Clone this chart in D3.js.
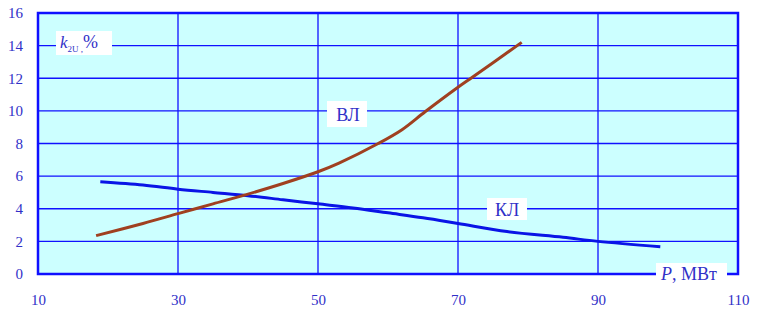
<!DOCTYPE html>
<html>
<head>
<meta charset="utf-8">
<script src="https://cdn.jsdelivr.net/npm/d3@7"></script>
<style>
  body { margin: 0; background: #fff; }
  text { font-family: "Liberation Serif", "Times New Roman", serif; }
</style>
</head>
<body>
<div id="chart"></div>
<script>
// data
var xTicks = [10, 30, 50, 70, 90, 110];
var yTicks = [0, 2, 4, 6, 8, 10, 12, 14, 16];

var pVL = [18.3, 25, 30, 35, 40, 45, 50, 53, 58.6, 62, 65.3, 70, 72, 75, 79.1];
var kVL = [2.35, 3.1, 3.7, 4.3, 4.9, 5.55, 6.27, 6.8, 8.0, 8.85, 9.95, 11.45, 12.05, 12.95, 14.2];

var pKL = [18.9, 25, 30, 35, 40, 45, 50, 55, 60, 65, 70, 77, 85, 90, 98.9];
var kKL = [5.65, 5.45, 5.2, 5.0, 4.8, 4.55, 4.3, 4.05, 3.75, 3.45, 3.1, 2.6, 2.25, 2.0, 1.67];

var svgWidth = 759, svgHeight = 314;
var padL = 38, padR = 738, padT = 13, padB = 274;
var gridColor = '#1010ff', textColor = '#3030c8';

var svg = d3.select('#chart')
    .append('svg')
    .attr('width', svgWidth)
    .attr('height', svgHeight);

var xScale = d3.scaleLinear().domain([10, 110]).range([padL, padR]);
var yScale = d3.scaleLinear().domain([0, 16]).range([padB, padT]);

// background
svg.append('rect')
    .attr('x', padL).attr('y', padT)
    .attr('width', padR - padL).attr('height', padB - padT)
    .attr('fill', '#ccffff');

// grid
svg.selectAll('.vgrid')
    .data(xTicks.slice(1, -1))
    .enter().append('line')
    .attr('x1', function(d) { return xScale(d); })
    .attr('x2', function(d) { return xScale(d); })
    .attr('y1', padT).attr('y2', padB)
    .attr('stroke', gridColor).attr('stroke-width', 1.3);

svg.selectAll('.hgrid')
    .data(yTicks.slice(1, -1))
    .enter().append('line')
    .attr('x1', padL).attr('x2', padR)
    .attr('y1', function(d) { return yScale(d); })
    .attr('y2', function(d) { return yScale(d); })
    .attr('stroke', gridColor).attr('stroke-width', 1.3);

// frame
svg.append('rect')
    .attr('x', padL).attr('y', padT)
    .attr('width', padR - padL).attr('height', padB - padT)
    .attr('fill', 'none')
    .attr('stroke', gridColor).attr('stroke-width', 2.5);

// axes, tick labels only
var xAxis = d3.axisBottom(xScale).tickValues(xTicks).tickSize(0).tickPadding(20);
var yAxis = d3.axisLeft(yScale).tickValues(yTicks).tickSize(0).tickPadding(15);

var gx = svg.append('g').attr('transform', 'translate(0,' + padB + ')').call(xAxis);
var gy = svg.append('g').attr('transform', 'translate(' + padL + ',0)').call(yAxis);
[gx, gy].forEach(function(g) {
    g.select('.domain').remove();
    g.selectAll('text')
        .attr('fill', textColor)
        .style('font-family', '"Liberation Serif", serif')
        .style('font-size', '15px');
});

var line = d3.line()
    .x(function(d) { return xScale(d[0]); })
    .y(function(d) { return yScale(d[1]); })
    .curve(d3.curveCatmullRom);

svg.append('path')
    .datum(d3.zip(pKL, kKL))
    .attr('d', line)
    .attr('fill', 'none')
    .attr('stroke', '#0a14e6')
    .attr('stroke-width', 3);

svg.append('path')
    .datum(d3.zip(pVL, kVL))
    .attr('d', line)
    .attr('fill', 'none')
    .attr('stroke', '#a04020')
    .attr('stroke-width', 3);

// labels with white boxes
function box(x, y, w, h) {
    svg.append('rect').attr('x', x).attr('y', y).attr('width', w).attr('height', h).attr('fill', '#fff');
}

box(327, 101, 40, 26);
svg.append('text').attr('x', 348).attr('y', 121).attr('text-anchor', 'middle')
    .attr('fill', textColor).attr('font-size', 18).text('ВЛ');

box(487, 198, 40, 22);
svg.append('text').attr('x', 507).attr('y', 216).attr('text-anchor', 'middle')
    .attr('fill', textColor).attr('font-size', 18).text('КЛ');

box(56, 31, 56, 24);
var kl = svg.append('text').attr('x', 60).attr('y', 48).attr('fill', textColor).attr('font-size', 17);
kl.append('tspan').attr('font-style', 'italic').text('k');
kl.append('tspan').attr('font-size', 9).attr('dy', 4).text('2U');
kl.append('tspan').attr('font-size', 9).text(' ,');
kl.append('tspan').attr('dy', -4).attr('font-size', 18).text('%');

box(656, 263, 71, 22);
var pl = svg.append('text').attr('x', 661).attr('y', 280).attr('fill', textColor).attr('font-size', 18);
pl.append('tspan').attr('font-style', 'italic').text('P');
pl.append('tspan').text(', МВт');
</script>
</body>
</html>
